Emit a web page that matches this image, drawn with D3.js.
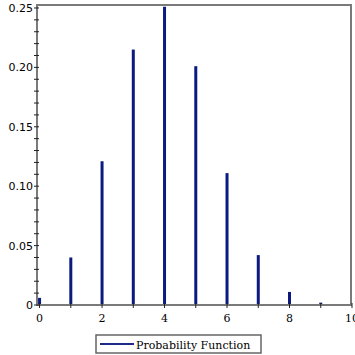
<!DOCTYPE html>
<html>
<head>
<meta charset="utf-8">
<script src="https://cdn.jsdelivr.net/npm/d3@7"></script>
<style>
  body { margin: 0; background: #fff; }
  text { font-family: "DejaVu Serif", serif; font-size: 11px; fill: #000; }
  text.ylab { font-family: "DejaVu Sans", sans-serif; }
</style>
</head>
<body>
<script>
const w = 355, h = 355;

// probability function values
const kValues = [0, 1, 2, 3, 4, 5, 6, 7, 8, 9];
const probs = [0.006, 0.040, 0.121, 0.215, 0.251, 0.201, 0.111, 0.042, 0.011, 0.002];
const xTickLabels = [0, 2, 4, 6, 8, 10];
const yTickLabels = ["0", "0.05", "0.10", "0.15", "0.20", "0.25"];
const legendLabel = "Probability Function";

const plotLeft = 37, plotRight = 351, plotTop = 5, plotBottom = 305;

const x = d3.scaleLinear().domain([-0.05, 10]).range([plotLeft, plotRight]);
const y = d3.scaleLinear().domain([0, 0.2525]).range([plotBottom, plotTop]);

const svg = d3.select("body").append("svg")
  .attr("width", w)
  .attr("height", h);

// box
svg.append("rect")
  .attr("x", plotLeft).attr("y", plotTop)
  .attr("width", plotRight - plotLeft).attr("height", plotBottom - plotTop)
  .attr("fill", "none").attr("stroke", "#7a7a7a").attr("stroke-width", 2);

// bars
svg.selectAll("line.bar")
  .data(kValues)
  .enter()
  .append("line")
  .attr("class", "bar")
  .attr("x1", d => x(d) + 1)
  .attr("x2", d => x(d) + 1)
  .attr("y1", y(0) - 1)
  .attr("y2", (d, i) => y(probs[i]))
  .attr("stroke", "#0b1a80")
  .attr("stroke-width", 3);

// y ticks
const yMinor = d3.range(0, 0.251, 0.01);
svg.selectAll("line.ymin")
  .data(yMinor)
  .enter()
  .append("line")
  .attr("class", "ymin")
  .attr("x1", plotLeft - 3).attr("x2", plotLeft + 2)
  .attr("y1", d => y(d)).attr("y2", d => y(d))
  .attr("stroke", "#222").attr("stroke-width", 1);

svg.selectAll("text.ylab")
  .data(yTickLabels)
  .enter()
  .append("text")
  .attr("class", "ylab")
  .attr("x", plotLeft - 4)
  .attr("y", d => y(+d) + 4)
  .attr("text-anchor", "end")
  .text(d => d);

// x ticks
svg.selectAll("line.xmin")
  .data(d3.range(0, 11, 1))
  .enter()
  .append("line")
  .attr("class", "xmin")
  .attr("x1", d => x(d) + 1).attr("x2", d => x(d) + 1)
  .attr("y1", plotBottom - 2).attr("y2", plotBottom + 3)
  .attr("stroke", "#222").attr("stroke-width", 1);

svg.selectAll("text.xlab")
  .data(xTickLabels)
  .enter()
  .append("text")
  .attr("class", "xlab")
  .attr("x", d => x(d) + 1)
  .attr("y", plotBottom + 17)
  .attr("text-anchor", "middle")
  .text(d => d);

// legend
const lg = svg.append("g");
lg.append("rect")
  .attr("x", 96).attr("y", 335)
  .attr("width", 165).attr("height", 18)
  .attr("fill", "#fff").attr("stroke", "#666").attr("stroke-width", 1.5);
lg.append("line")
  .attr("x1", 100).attr("x2", 134)
  .attr("y1", 344).attr("y2", 344)
  .attr("stroke", "#1e2a8a").attr("stroke-width", 2);
lg.append("text")
  .attr("x", 136).attr("y", 348.5)
  .text(legendLabel);
</script>
</body>
</html>
